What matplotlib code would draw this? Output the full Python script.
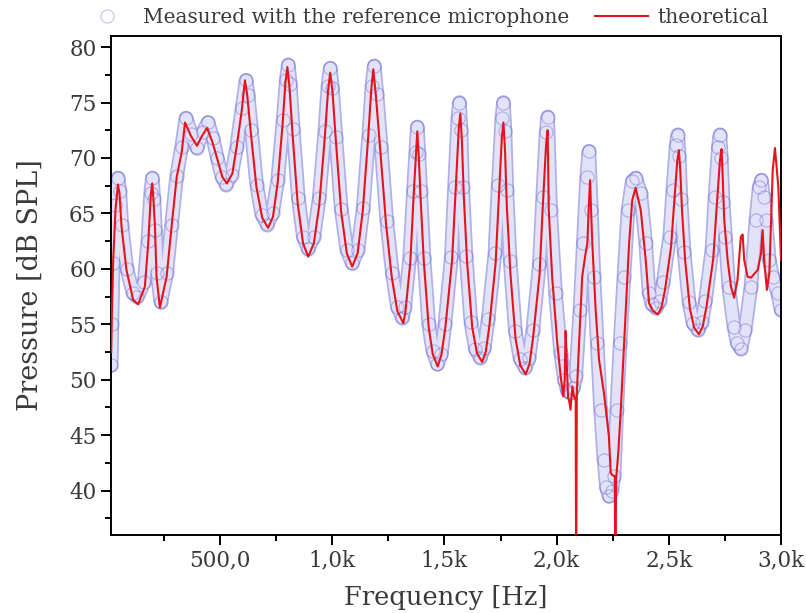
import matplotlib
matplotlib.use('Agg')
import matplotlib.pyplot as plt
from matplotlib.ticker import FixedLocator, FixedFormatter, MultipleLocator

# theoretical curve (Hz, dB SPL)
theo_freq = [15, 18, 24, 34, 45, 52, 61, 83, 113, 135, 165, 180, 192, 198, 204, 210, 217, 232,
             262, 284, 307, 329, 344, 370, 397, 420, 442, 465, 485, 510, 531, 555, 574, 597, 611,
             621, 637, 662, 688, 714, 736, 757, 779, 791, 800,
             809, 823, 846, 870, 893, 918, 942, 967, 981, 991,
             1001, 1016, 1040, 1065, 1089, 1113, 1136, 1160, 1174, 1183,
             1195, 1214, 1240, 1265, 1290, 1317, 1326, 1348, 1363, 1372, 1379,
             1386, 1393, 1408, 1430, 1448, 1470, 1487, 1504, 1534, 1549, 1564, 1571,
             1578, 1586, 1601, 1624, 1645, 1668, 1684, 1700, 1728, 1742, 1756, 1763,
             1770, 1778, 1794, 1817, 1838, 1862, 1879, 1895, 1924, 1938, 1953, 1960,
             1965, 1980, 2003, 2018, 2030, 2036, 2040, 2044, 2051, 2055, 2062, 2070, 2077, 2085,
             2087, 2090, 2100, 2114, 2129, 2137, 2143, 2149, 2154, 2159, 2174, 2189, 2211, 2233,
             2241, 2248, 2259, 2262, 2265, 2275, 2286, 2308, 2323, 2337, 2352, 2375, 2397, 2412,
             2430, 2451, 2467, 2483, 2510, 2524, 2538, 2545,
             2551, 2559, 2573, 2594, 2613, 2634, 2651, 2668, 2698, 2713, 2728, 2735,
             2741, 2747, 2762, 2777, 2791, 2806, 2821, 2829, 2836, 2851, 2866, 2896, 2911, 2918,
             2925, 2937, 2948, 2963, 2973, 2988, 3000]
theo_spl = [52.5, 56.0, 60.8, 65.3, 67.6, 66.8, 63.8, 59.9, 57.2, 56.8, 58.4, 62.3, 66.8, 67.7, 66.0, 63.8, 59.3, 56.5,
            59.3, 63.8, 68.3, 70.5, 73.2, 72.0, 71.1, 72.0, 72.7, 71.5, 70.1, 68.3, 67.7, 68.6, 71.0, 74.3, 77.0,
            75.7, 72.3, 67.4, 64.6, 63.7, 64.7, 67.8, 73.1, 76.7, 78.2,
            76.5, 72.2, 65.9, 62.3, 61.1, 62.3, 65.7, 71.9, 76.0, 77.7,
            76.0, 71.6, 65.1, 61.4, 60.2, 61.4, 65.2, 71.8, 76.2, 78.0,
            75.5, 70.7, 64.0, 59.3, 56.2, 55.1, 56.1, 60.6, 66.7, 70.0, 72.4,
            70.0, 66.7, 60.7, 54.7, 52.3, 51.2, 52.3, 54.7, 60.7, 66.7, 72.7, 74.0,
            71.5, 66.7, 60.6, 54.7, 52.4, 51.6, 52.5, 54.8, 60.5, 66.3, 71.9, 73.2,
            70.7, 65.7, 59.6, 53.7, 51.3, 50.5, 51.4, 53.8, 59.5, 65.5, 71.2, 72.5,
            65.3, 59.3, 53.3, 50.3, 48.5, 50.0, 54.4, 52.1, 48.4, 48.2, 47.3, 49.4, 48.5, 48.2,
            30.0, 48.8, 53.3, 59.3, 61.4, 62.3, 65.5, 68.0, 65.0, 62.3, 56.3, 51.8, 48.8, 44.9,
            41.6, 41.4, 41.3, 30.0, 41.0, 43.5, 47.3, 56.3, 62.3, 66.2, 67.3, 65.3, 60.8, 56.9,
            56.2, 55.9, 56.5, 58.1, 62.0, 66.0, 69.8, 70.7,
            68.9, 65.2, 60.7, 56.4, 54.7, 54.1, 54.8, 56.6, 60.9, 65.5, 69.8, 70.8,
            67.8, 64.4, 60.8, 58.4, 57.4, 59.0, 62.9, 63.1, 60.8, 59.3, 59.2, 59.9, 61.4, 63.5,
            60.8, 58.1, 59.6, 68.9, 70.9, 67.4, 60.8]

# measured with the reference microphone (Hz, dB SPL)
meas_freq = [15, 18, 24, 34, 45, 53, 62, 85, 112, 132, 162, 178, 191, 198, 205, 212, 220, 236,
             262, 284, 307, 329, 348, 372, 397, 422, 446, 468, 488, 508, 527, 552, 574, 598, 616,
             625, 640, 663, 686, 710, 734, 757, 781, 795, 804,
             813, 826, 849, 871, 893, 918, 942, 967, 981, 991,
             1001, 1016, 1040, 1065, 1089, 1114, 1138, 1163, 1177, 1187,
             1199, 1218, 1243, 1268, 1290, 1313, 1323, 1345, 1362, 1372, 1379,
             1386, 1394, 1409, 1430, 1448, 1469, 1486, 1502, 1531, 1545, 1560, 1567,
             1574, 1581, 1596, 1618, 1638, 1660, 1678, 1695, 1725, 1740, 1756, 1763,
             1770, 1778, 1793, 1816, 1837, 1860, 1877, 1894, 1923, 1938, 1953, 1960,
             1973, 1995, 2018, 2035, 2048, 2062, 2075, 2085, 2104, 2119, 2134, 2144,
             2155, 2166, 2181, 2196, 2211, 2222, 2233, 2245, 2256, 2268, 2283, 2300, 2318, 2337,
             2352, 2375, 2397, 2412, 2425, 2442, 2459, 2475, 2504, 2518, 2533, 2540,
             2546, 2554, 2568, 2590, 2608, 2630, 2647, 2663, 2692, 2706, 2721, 2728,
             2734, 2742, 2752, 2767, 2790, 2805, 2821, 2840, 2866, 2888, 2903, 2913,
             2922, 2933, 2948, 2963, 2985, 3000]
meas_spl = [51.3, 55.0, 60.5, 65.8, 68.2, 67.0, 64.0, 60.0, 57.8, 57.5, 58.8, 62.5, 66.8, 68.2, 66.3, 63.5, 59.6, 57.0,
            59.6, 64.0, 68.4, 71.0, 73.6, 72.2, 70.9, 72.3, 73.2, 71.8, 70.0, 68.3, 67.6, 68.5, 71.0, 74.5, 77.0,
            75.7, 72.5, 67.6, 64.9, 64.0, 65.0, 68.0, 73.4, 77.0, 78.4,
            76.7, 72.6, 66.4, 62.9, 61.8, 62.9, 66.4, 72.4, 76.5, 78.1,
            76.3, 71.9, 65.4, 61.7, 60.5, 61.7, 65.5, 72.1, 76.5, 78.3,
            75.8, 71.0, 64.3, 59.6, 56.6, 55.6, 56.6, 61.0, 67.0, 70.5, 72.8,
            70.4, 67.0, 61.0, 55.0, 52.6, 51.4, 52.3, 55.0, 61.1, 67.4, 73.6, 75.0,
            72.5, 67.4, 61.2, 55.2, 52.8, 52.0, 52.9, 55.5, 61.4, 67.6, 73.6, 75.0,
            72.4, 67.1, 60.7, 54.4, 51.9, 51.1, 52.0, 54.5, 60.4, 66.5, 72.3, 73.7,
            65.3, 57.8, 52.4, 50.0, 49.0, 48.8, 49.3, 50.3, 56.3, 62.3, 68.3, 70.6,
            65.3, 59.3, 53.3, 47.3, 42.8, 40.3, 39.5, 40.0, 41.3, 47.3, 53.3, 59.3, 65.3, 67.9,
            68.2, 66.8, 62.3, 57.8, 56.8, 56.5, 57.1, 58.8, 62.9, 67.1, 71.2, 72.1,
            70.2, 66.3, 61.5, 57.0, 55.1, 54.5, 55.2, 57.1, 61.7, 66.5, 71.0, 72.1,
            70.0, 66.0, 62.9, 58.4, 54.8, 53.3, 52.8, 54.5, 58.4, 64.4, 67.4, 68.0,
            66.5, 64.4, 60.8, 59.3, 57.8, 56.3]

x_ticks = [500, 1000, 1500, 2000, 2500, 3000]
x_tick_labels = ['500,0', '1,0k', '1,5k', '2,0k', '2,5k', '3,0k']
y_ticks = [40, 45, 50, 55, 60, 65, 70, 75, 80]


def main():
    plt.rcParams['font.family'] = 'DejaVu Serif'
    text_color = '#3a3a3a'

    fig = plt.figure(figsize=(8.06, 6.13), dpi=100)
    ax = fig.add_axes([0.1377, 0.1272, 0.8313, 0.8141])

    # tube under the circles: darker rim, pale inside, like many overlapping rings
    ax.plot(meas_freq, meas_spl, color='#7070d4', lw=10.5, alpha=0.55,
            solid_capstyle='round', solid_joinstyle='round', zorder=1)
    ax.plot(meas_freq, meas_spl, color='#e2e2f8', lw=8,
            solid_capstyle='round', solid_joinstyle='round', zorder=1.5)
    ax.plot(meas_freq, meas_spl, ls='none', marker='o', ms=9.5, mfc='none',
            mec='#3434c4', mew=0.8, alpha=0.3, zorder=2,
            label='Measured with the reference microphone')
    ax.plot(theo_freq, theo_spl, color='#e5141c', lw=1.5, zorder=3, label='theoretical')

    ax.set_xlim(14, 3000)
    ax.set_ylim(36.0, 81.0)

    ax.xaxis.set_major_locator(FixedLocator(x_ticks))
    ax.xaxis.set_major_formatter(FixedFormatter(x_tick_labels))
    ax.xaxis.set_minor_locator(MultipleLocator(250))
    ax.yaxis.set_major_locator(FixedLocator(y_ticks))
    ax.yaxis.set_minor_locator(MultipleLocator(2.5))

    ax.tick_params(which='both', direction='out', top=False, right=False,
                   width=1.4, colors='black', labelcolor=text_color, labelsize=15.5)
    ax.tick_params(which='major', length=7)
    ax.tick_params(which='minor', length=4)
    for side in ax.spines.values():
        side.set_linewidth(1.4)

    ax.set_xlabel('Frequency [Hz]', fontsize=18.5, color=text_color, labelpad=10)
    ax.set_ylabel('Pressure [dB SPL]', fontsize=19.5, color=text_color, labelpad=18)

    fig.legend(loc='center', bbox_to_anchor=(0.527, 0.972), ncol=2, frameon=False,
               fontsize=14.5, labelcolor=text_color, handlelength=2.6,
               columnspacing=1.3, handletextpad=0.5)

    fig.savefig('out.png', dpi=100)


if __name__ == '__main__':
    main()
